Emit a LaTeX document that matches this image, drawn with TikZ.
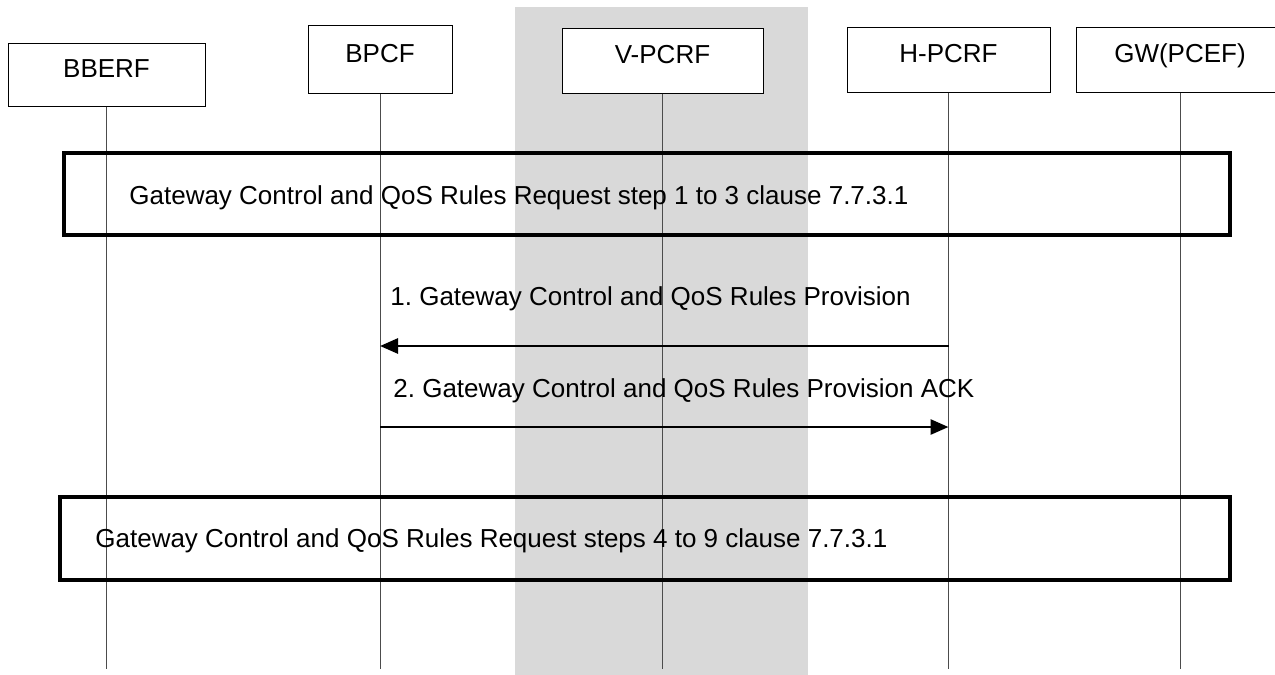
\documentclass[tikz,border=0pt]{standalone}
\usepackage{fontspec}
\setmainfont{Liberation Sans}
\usetikzlibrary{arrows.meta}
\definecolor{band}{gray}{0.85}
\frenchspacing
\begin{document}
\begin{tikzpicture}[x=0.5pt,y=-0.5pt,font=\fontsize{13}{15}\selectfont,
		ent/.style={draw,line width=0.5pt,minimum height=32.5pt,text height=9.3pt,text depth=6pt,inner sep=0pt},
		life/.style={line width=0.5pt,draw=black!70},
		frame/.style={line width=2pt},
		txt/.style={anchor=base west,inner sep=0pt},
		msg/.style={line width=1.4pt,-{Triangle[length=9pt,width=7.5pt]}}]
	\useasboundingbox (0,0) rectangle (1275,675);
	\fill[band] (515,7) rectangle (808,675);
	% entities
	\node[ent,minimum width=98.5pt,minimum height=31.5pt] (bberf) at (106.5,74.5) {BBERF};
	\node[ent,minimum width=72pt,minimum height=34pt] (bpcf) at (380,59) {BPCF};
	\node[ent,minimum width=100.5pt,fill=white] (vpcrf) at (662.5,60.5) {V-PCRF};
	\node[ent,minimum width=101.5pt] (hpcrf) at (948.5,59.5) {H-PCRF};
	\node[ent,minimum width=104pt] (gw) at (1180,59.5) {GW(PCEF)};
	\foreach \n in {bberf,bpcf,vpcrf,hpcrf,gw}{\coordinate (\n-end) at (\n.south |- 0,669);\draw[life] (\n) -- (\n-end);}
	% procedure frames
	\draw[frame] (64,152.5) rectangle (1230,234.5);
	\node[txt] (req1) at (129,204) {Gateway Control and QoS Rules Request step 1 to 3 clause 7.7.3.1};
	\draw[frame] (60,497) rectangle (1230,580);
	\node[txt] (req2) at (95,547) {Gateway Control and QoS Rules Request steps 4 to 9 clause 7.7.3.1};
	% messages
	\coordinate (h1) at (hpcrf.south |- 0,346);\coordinate (b1) at (bpcf.south |- 0,346);
	\coordinate (b2) at (bpcf.south |- 0,427);\coordinate (h2) at (hpcrf.south |- 0,427);
	\draw[msg] (h1) -- (b1);
	\node[txt] (prov) at (390,305) {1. Gateway Control and QoS Rules Provision};
	\draw[msg] (b2) -- (h2);
	\node[txt] (ack) at (393,397) {2. Gateway Control and QoS Rules Provision ACK};
\end{tikzpicture}
\end{document}
